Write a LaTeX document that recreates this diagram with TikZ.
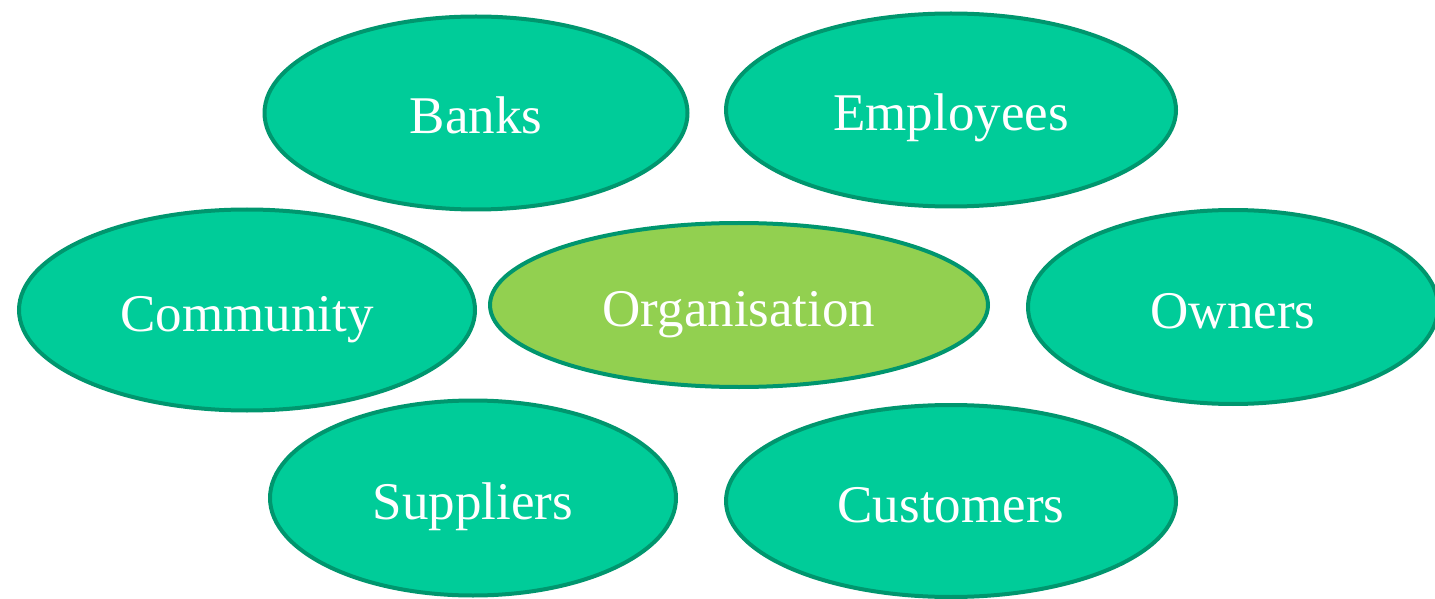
\documentclass[tikz,border=0pt]{standalone}
\usepackage{fontspec}
\setmainfont{Liberation Serif}
\usetikzlibrary{shapes.geometric}
\definecolor{teal}{HTML}{00CC99}
\definecolor{rim}{HTML}{00966E}
\definecolor{lime}{HTML}{92D050}
\begin{document}
\begin{tikzpicture}[x=1pt,y=1pt,
  party/.style={ellipse, draw=rim, fill=teal, line width=4pt, inner sep=0pt,
    text=white, font=\fontsize{53}{60}\selectfont, text height=42pt, text depth=0pt},
  core/.style={party, fill=lime}]
\useasboundingbox (0,0) rectangle (1435,598);
\clip (0,0) rectangle (1435,598);
\node[party, minimum width=423, minimum height=193] (banks) at (476,485) {Banks};
\node[party, minimum width=450, minimum height=193] (employees) at (951,488) {Employees};
\node[party, minimum width=456, minimum height=201] (community) at (247,288) {Community};
\node[core, minimum width=498, minimum height=164] (org) at (739,293) {Organisation};
\node[party, minimum width=410, minimum height=194] (owners) at (1233,291) {Owners};
\node[party, minimum width=406, minimum height=195] (suppliers) at (473,100) {Suppliers};
\node[party, minimum width=450, minimum height=192] (customers) at (951,97) {Customers};
\end{tikzpicture}
\end{document}
